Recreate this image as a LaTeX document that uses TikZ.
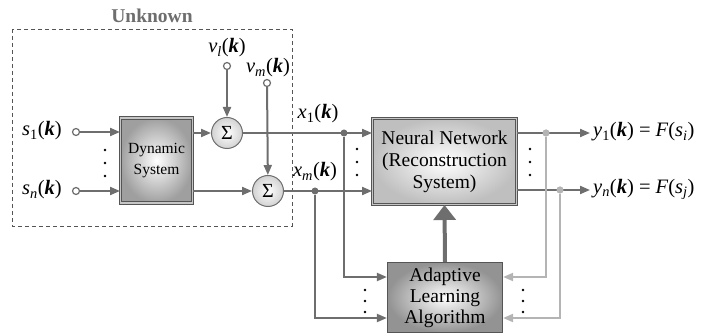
\documentclass[tikz,border=0pt]{standalone}
\usepackage{fontspec}
\setmainfont{Liberation Serif}
\usetikzlibrary{arrows.meta,calc}
\definecolor{lg}{HTML}{6E6E6E}
\definecolor{lt}{HTML}{B4B4B4}
\definecolor{bd}{HTML}{555555}
\newcommand\sg[2]{\textit{#1}\textsubscript{#2}(\textbf{\textit{k}})}
\begin{document}
\begin{tikzpicture}[x=1pt,y=-1pt,
  ln/.style={draw=lg,line width=2pt},
  arr/.style={ln,-{Triangle[length=10pt,width=8pt]}},
  lnl/.style={draw=lt,line width=2pt},
  arrl/.style={lnl,-{Triangle[length=10pt,width=8pt]}},
  blk/.style={rectangle,draw=bd,line width=1pt,double=gray!45,double distance=1.6pt,
     align=center,inner sep=1pt,font=\fontsize{19.5}{22}\selectfont},
  sumnode/.style={circle,draw=lg,line width=1pt,inner color=white,outer color=gray!35,
     minimum size=31pt,inner sep=0pt,font=\fontsize{20}{20}\selectfont},
  port/.style={circle,draw=lg,line width=1.2pt,fill=white,minimum size=7pt,inner sep=0pt},
  dot/.style={circle,fill=lg,minimum size=7pt,inner sep=0pt},
  dotl/.style={circle,fill=lt,minimum size=7pt,inner sep=0pt},
  lab/.style={font=\fontsize{20.5}{20.5}\selectfont,inner sep=1pt},
  vd/.style={circle,fill=black,minimum size=2.6pt,inner sep=0pt}
]
\useasboundingbox (0,0) rectangle (716,334);

% unknown region
\draw[draw=bd,line width=0.9pt,dash pattern=on 4pt off 3pt] (12,29) rectangle (292,226);
\node[font=\bfseries\fontsize{19.5}{19.5}\selectfont,text=lg] (unk) at (152,16) {Unknown};

% blocks
\node[blk,minimum width=72pt,minimum height=85pt,inner color=white,outer color=gray!75,
      font=\fontsize{15.5}{20.5}\selectfont] (ds) at (156.5,160.5) {Dynamic\\System};
\node[blk,minimum width=144pt,minimum height=86pt,inner color=white,outer color=gray!50] (nn) at (444.5,161.5)
      {Neural Network\\(Reconstruction\\System)};
\node[blk,minimum width=115pt,minimum height=70pt,inner color=white,outer color=gray!85,
      double=none,draw=bd,line width=1.2pt,font=\fontsize{19.5}{21}\selectfont] (ala) at (445,297.5) {Adaptive\\Learning\\Algorithm};

% sums
\node[sumnode] (s1) at (227,133) {Σ};
\node[sumnode] (s2) at (268,191) {Σ};

% input ports
\node[port] (in1) at (76,132) {};
\node[port] (inn) at (76,191) {};
\node[port] (v1) at (227,66) {};
\node[port] (vm) at (267,83) {};

% labels
\node[lab,anchor=east] (ls1) at (63,131) {\sg{s}{1}};
\node[lab,anchor=east] (lsn) at (63,190) {\sg{s}{\textit{n}}};
\node[lab] (lv1) at (227,48) {\sg{v}{\textit{l}}};
\node[lab] (lvm) at (268,68) {\sg{v}{\textit{m}}};
\node[lab] (lx1) at (318,114) {\sg{x}{1}};
\node[lab] (lxm) at (315,172) {\sg{x}{\textit{m}}};

% vertical dots
\foreach \x/\y [count=\i] in {105/150,105/163,105/176,357/149,357/162,357/175,530/149,530/162,530/175,365/290,365/301,365/312,523/290,523/301,523/312}
  \node[vd] (vd\i) at (\x,\y) {};

% dynamic system connections
\draw[arr] (in1) -- (in1 -| ds.west);
\draw[arr] (inn) -- (inn -| ds.west);
\draw[arr] (ds.east |- s1) -- (s1);
\draw[arr] (ds.east |- s2) -- (s2);
\draw[arr] (v1) -- (s1);
\draw[arr] (vm) -- (s2);

% junctions
\node[dot] (j1) at (344,133) {};
\node[dot] (jm) at (315,191) {};
\node[dotl] (jy1) at (546,133) {};
\node[dotl] (jyn) at (560,190) {};

% to NN
\draw[arr] (s1.east) -- (s1.east -| nn.west);
\draw[arr] (s2.east) -- (s2.east -| nn.west);

% outputs
\coordinate (o1) at (590,133);
\coordinate (on) at (590,190);
\draw[arr] (nn.east |- o1) -- (o1);
\draw[arr] (nn.east |- on) -- (on);
\node[lab,anchor=west] (ly1) at (592,132) {\sg{y}{1} = \textit{F}(\textit{s}\textsubscript{\textit{i}})};
\node[lab,anchor=west] (lyn) at (592,189) {\sg{y}{\textit{n}} = \textit{F}(\textit{s}\textsubscript{\textit{j}})};

% to adaptive algorithm
\draw[arr] (j1) |- ($(ala.west)+(0,-20.5)$);
\draw[arr] (jm) |- ($(ala.west)+(0,20.5)$);
\draw[arrl] (jy1) |- ($(ala.east)+(0,-20.5)$);
\draw[arrl] (jyn) |- ($(ala.east)+(0,20.5)$);
\node[dotl] at (jy1) {};
\node[dotl] at (jyn) {};

% adaptation arrow
\draw[draw=lg,line width=4pt,-{Triangle[length=15pt,width=22pt]}] (ala.north) -- (nn.south);
\end{tikzpicture}
\end{document}
